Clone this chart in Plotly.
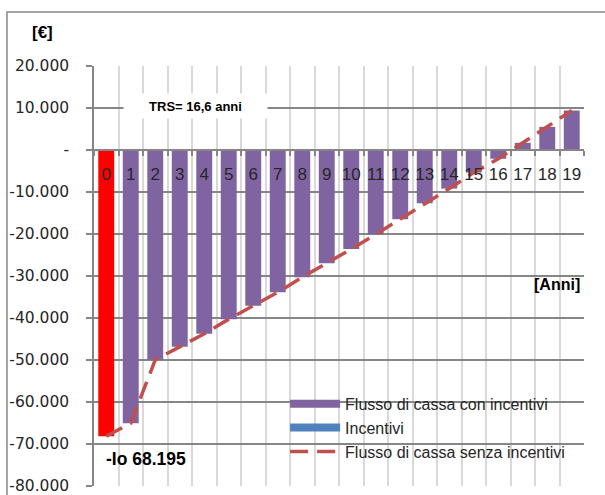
import plotly.graph_objects as go

# ---- data ----
years = list(range(20))
year_labels = [str(y) for y in years]
flusso_con_incentivi = [-68195, -65100, -50000, -46900, -43800, -40300, -37100, -33900,
                        -30300, -27000, -23600, -20100, -16500, -12700, -9200, -5400,
                        -2100, 1700, 5500, 9400]
incentivi = [0] * 20
flusso_senza_incentivi = [-68195, -65100, -50000, -46900, -43800, -40300, -37100, -33900,
                          -30300, -27000, -23600, -20100, -16500, -12700, -9200, -5400,
                          -2100, 1700, 5500, 9400]
y_tick_vals = [20000, 10000, 0, -10000, -20000, -30000, -40000, -50000, -60000, -70000, -80000]
y_tick_text = ["20.000", "10.000", "-", "-10.000", "-20.000", "-30.000", "-40.000",
               "-50.000", "-60.000", "-70.000", "-80.000"]

PURPLE = "#8064A2"
RED = "#FF0000"
BLUE = "#4F81BD"
LINE_RED = "#C0504D"
GRID_DARK = "#868686"
GRID_LIGHT = "#D9D9D9"
TXT = "#262626"
FONT = "Liberation Sans, Arial, sans-serif"

bar_colors = [RED] + [PURPLE] * (len(years) - 1)

fig = go.Figure()
fig.add_trace(go.Bar(x=years, y=flusso_con_incentivi, marker=dict(color=bar_colors, line=dict(width=0)),
                     width=0.65, showlegend=False, name="Flusso di cassa con incentivi"))
fig.add_trace(go.Bar(x=years, y=incentivi, marker=dict(color=BLUE, line=dict(width=0)),
                     width=0.65, showlegend=False, name="Incentivi"))
fig.add_trace(go.Scatter(x=years, y=flusso_senza_incentivi, mode="lines",
                         line=dict(color=LINE_RED, width=3.5, dash="18px,9px"),
                         showlegend=False, name="Flusso di cassa senza incentivi"))
# legend entries
fig.add_trace(go.Scatter(x=[None], y=[None], mode="lines", line=dict(color=PURPLE, width=8),
                         name="Flusso di cassa con incentivi"))
fig.add_trace(go.Scatter(x=[None], y=[None], mode="lines", line=dict(color=BLUE, width=8),
                         name="Incentivi"))
fig.add_trace(go.Scatter(x=[None], y=[None], mode="lines",
                         line=dict(color=LINE_RED, width=3.5, dash="18px,9px"),
                         name="Flusso di cassa senza incentivi"))

fig.update_layout(
    width=605, height=495,
    margin=dict(l=94, r=21, t=66, b=9),
    paper_bgcolor="white", plot_bgcolor="white",
    barmode="overlay",
    font=dict(family=FONT, color=TXT),
    xaxis=dict(
        range=[-0.5, 19.5], tickmode="array", tickvals=years, ticktext=year_labels,
        ticks="", showgrid=False, zeroline=False,
        anchor="free", position=0.8, automargin=False,
        showline=True, linecolor=GRID_DARK, linewidth=1.5,
        tickfont=dict(family=FONT, size=17, color=TXT),
        ticklabelstandoff=9,
        minor=dict(tickmode="linear", tick0=-0.5, dtick=1, showgrid=True,
                   gridcolor=GRID_LIGHT, gridwidth=2,
                   ticks="outside", ticklen=5, tickcolor=GRID_DARK, tickwidth=1.5),
    ),
    yaxis=dict(
        range=[-80050, 20000], tickmode="array", tickvals=y_tick_vals, ticktext=y_tick_text,
        showgrid=True, gridcolor=GRID_DARK, gridwidth=1.5, zeroline=False,
        showline=True, linecolor=GRID_DARK, linewidth=1.5, automargin=False,
        ticks="outside", ticklen=6, tickcolor=GRID_DARK, tickwidth=1.5,
        tickfont=dict(family="DejaVu Sans", size=15.5, color=TXT),
        ticklabelstandoff=14, ticklabeloverflow="allow",
    ),
    legend=dict(x=0.39, y=0.236, xanchor="left", yanchor="top", itemwidth=50,
                bgcolor="rgba(0,0,0,0)", font=dict(family=FONT, size=16, color=TXT),
                tracegroupgap=0),
    annotations=[
        dict(text="<b>TRS= 16,6 anni</b>", x=3.66, y=10500, xref="x", yref="y",
             showarrow=False, bgcolor="white", width=141, height=22,
             font=dict(family=FONT, size=13, color="black")),
        dict(text="<b>-Io 68.195</b>", x=-0.09, y=-73600, xref="x", yref="y",
             xanchor="left", showarrow=False, font=dict(family=FONT, size=17.5, color="black")),
        dict(text="<b>[Anni]</b>", x=19.42, y=-32140, xref="x", yref="y",
             xanchor="right", showarrow=False, font=dict(family=FONT, size=16, color="black")),
        dict(text="<b>[€]</b>", x=-0.106, y=1.0786, xref="paper", yref="paper",
             xanchor="center", yanchor="middle",
             showarrow=False, font=dict(family=FONT, size=17, color="black")),
    ],
    shapes=[
        dict(type="rect", xref="paper", yref="paper", x0=-0.1776, x1=1.2, y0=-0.2, y1=1.1286,
             line=dict(color=GRID_DARK, width=1.5), layer="below"),
    ],
)

fig.write_html("out.html", config={"displayModeBar": False},
               post_script="document.body.style.margin='0';")
